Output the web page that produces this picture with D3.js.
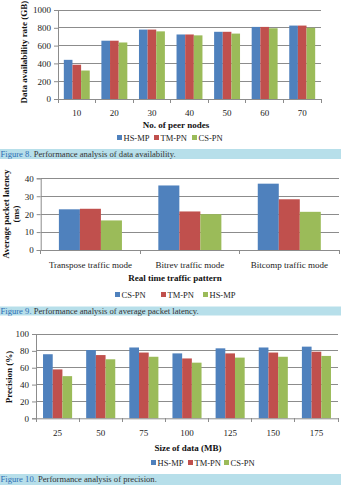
<!DOCTYPE html>
<html><head><meta charset="utf-8">
<script src="https://cdn.jsdelivr.net/npm/d3@7"></script>
<style>
html,body{margin:0;padding:0;background:#fff;}
svg{display:block;font-family:"Liberation Serif","Times New Roman",serif;}
</style></head>
<body>
<svg id="c" width="351" height="485"></svg>
<script>
// ---- Figure 8 data ----
const peerNodes = ["10","20","30","40","50","60","70"];
const fig8Series = ["HS-MP","TM-PN","CS-PN"];
const fig8HSMP = [440,655,780,725,755,810,825];
const fig8TMPN = [385,655,780,725,755,810,825];
const fig8CSPN = [320,635,760,715,735,795,800];
const fig8Ticks = [0,200,400,600,800,1000];

// ---- Figure 9 data ----
const trafficModes = ["Transpose traffic mode","Bitrev traffic mode","Bitcomp traffic mode"];
const fig9Series = ["CS-PN","TM-PN","HS-MP"];
const fig9CSPN = [22.7,36,37];
const fig9TMPN = [23,21.5,28.3];
const fig9HSMP = [16.5,20,21.3];
const fig9Ticks = [0,10,20,30,40];

// ---- Figure 10 data ----
const dataSizes = ["25","50","75","100","125","150","175"];
const fig10Series = ["HS-MP","TM-PN","CS-PN"];
const fig10HSMP = [76,81,84,77,83,84,85];
const fig10TMPN = [58,75,78,71,77,78,79];
const fig10CSPN = [50,70,73,66,72,73,74];
const fig10Ticks = [0,20,40,60,80,100];

const palette = ["#4f81bd","#c0504d","#9bbb59"];
const svg = d3.select("#c");

function drawChart(o){
  const g = svg.append("g");
  const x0 = d3.scaleBand().domain(o.cats).range([o.left,o.right]);
  const bw = x0.bandwidth();
  const x1 = d3.scaleBand().domain(o.series).range([bw*o.gm, bw*(1-o.gm)]);
  const color = d3.scaleOrdinal().domain(o.series).range(palette);
  const y = d3.scaleLinear().domain([0,o.ticks[o.ticks.length-1]]).range([o.bottom,o.top]);
  // gridlines
  g.append("g").selectAll("line").data(o.ticks.slice(1)).join("line")
    .attr("x1",o.left).attr("x2",o.right).attr("y1",d=>y(d)).attr("y2",d=>y(d))
    .attr("stroke","#8c8c8c").attr("stroke-width",1).attr("shape-rendering","crispEdges");
  // y axis
  const ya = g.append("g").attr("transform",`translate(${o.left},0)`)
    .call(d3.axisLeft(y).tickValues(o.ticks).tickFormat(d3.format("d")).tickSize(4).tickPadding(3));
  ya.select(".domain").attr("stroke","#8c8c8c");
  ya.selectAll(".tick line").attr("stroke","#8c8c8c");
  ya.selectAll(".tick text").attr("font-family","Liberation Serif").attr("font-size",o.fs).attr("fill","#222");
  // bars
  o.series.forEach((s,si)=>{
    g.append("g").selectAll("rect").data(o.values[si]).join("rect")
      .attr("x",(d,i)=>x0(o.cats[i])+x1(s)).attr("width",x1.bandwidth())
      .attr("y",d=>y(d)).attr("height",d=>o.bottom-y(d)).attr("fill",color(s));
  });
  // x axis
  const xa = g.append("g").attr("transform",`translate(0,${o.bottom})`)
    .call(d3.axisBottom(x0).tickSize(0).tickPadding(o.xpad));
  xa.select(".domain").attr("stroke","#8c8c8c");
  xa.selectAll(".tick text").attr("font-family","Liberation Serif").attr("font-size",o.fs).attr("fill","#222");
  // boundary ticks
  const bounds = o.cats.map(c=>x0(c)).concat([o.right]);
  g.append("g").selectAll("line").data(bounds).join("line")
    .attr("x1",d=>d).attr("x2",d=>d).attr("y1",o.bottom).attr("y2",o.bottom+4)
    .attr("stroke","#8c8c8c").attr("shape-rendering","crispEdges");
  // x title
  g.append("text").attr("x",o.xtX).attr("y",o.xtY).attr("text-anchor","middle")
    .attr("font-weight","bold").attr("font-size",o.tfs).attr("fill","#111").text(o.xtitle);
  // y title
  const yt = g.append("text").attr("transform",`translate(${o.ytX},${o.ytY}) rotate(-90)`)
    .attr("text-anchor","middle").attr("font-weight","bold").attr("font-size",o.tfs).attr("fill","#111");
  o.ytitle.forEach((t,i)=>{
    yt.append("tspan").attr("x",0).attr("dy",i===0?0:o.tfs*1.1).text(t);
  });
  // legend
  const lg = g.append("g");
  o.series.forEach((s,i)=>{
    lg.append("rect").attr("x",o.legX[i]).attr("y",o.legY-3).attr("width",5).attr("height",5).attr("fill",color(s));
    lg.append("text").attr("x",o.legX[i]+6.5).attr("y",o.legY+3).attr("font-size",8.5).attr("fill","#222").text(s);
  });
  // caption
  g.append("rect").attr("x",0).attr("y",o.capY).attr("width",341).attr("height",o.capH).attr("fill","#b7dfea");
  const ct = g.append("text").attr("x",0.5).attr("y",o.capY+7.5).attr("font-size",8.6);
  ct.append("tspan").attr("fill","#2e6db4").text(o.capNum);
  ct.append("tspan").attr("fill","#333").text(" "+o.capText);
}

drawChart({cats:peerNodes, series:fig8Series, values:[fig8HSMP,fig8TMPN,fig8CSPN], ticks:fig8Ticks,
  left:58,right:321,top:10,bottom:99,gm:0.155,fs:9,tfs:9,xpad:11,
  xtitle:"No. of peer nodes", xtX:176, xtY:128, ytitle:["Data availability rate (GB)"], ytX:27, ytY:52,
  legX:[117,154,192], legY:138, capY:149, capH:10, capNum:"Figure 8.", capText:"Performance analysis of data availability."});

drawChart({cats:trafficModes, series:fig9Series, values:[fig9CSPN,fig9TMPN,fig9HSMP], ticks:fig9Ticks,
  left:40.7,right:339,top:178.3,bottom:250,gm:0.183,fs:9,tfs:9,xpad:12,
  xtitle:"Real time traffic pattern", xtX:175, xtY:281, ytitle:["Average packet latency","(ms)"], ytX:9, ytY:214,
  legX:[115,161,203], legY:295, capY:306.5, capH:9, capNum:"Figure 9.", capText:"Performance analysis of average packet latency."});

drawChart({cats:dataSizes, series:fig10Series, values:[fig10HSMP,fig10TMPN,fig10CSPN], ticks:fig10Ticks,
  left:36,right:338,top:334,bottom:418.3,gm:0.163,fs:9,tfs:9,xpad:11,
  xtitle:"Size of data (MB)", xtX:188, xtY:451, ytitle:["Precision (%)"], ytX:12, ytY:377,
  legX:[151,188,224], legY:463, capY:474, capH:11, capNum:"Figure 10.", capText:"Performance analysis of precision."});
</script>
</body></html>
